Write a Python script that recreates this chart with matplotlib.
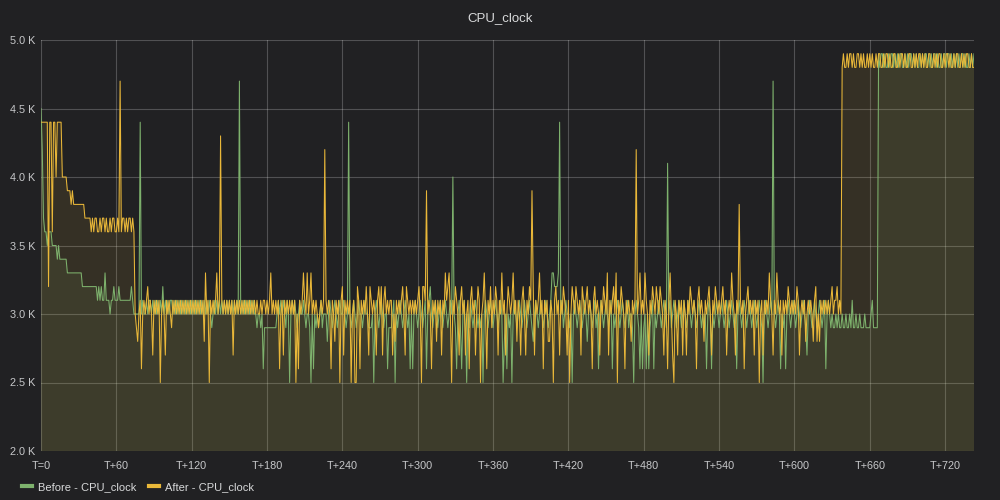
import numpy as np
import matplotlib
matplotlib.use("Agg")
import matplotlib.pyplot as plt
from matplotlib.ticker import FuncFormatter, MultipleLocator

title = "CPU_clock"
series_names = ["Before - CPU_clock", "After - CPU_clock"]
x_ticks = list(range(0, 721, 60))
x_labels = ["T=0"] + ["T+%d" % s for s in x_ticks[1:]]

# one sample per second, clock in units of 100 MHz (30 -> 3.0 K)
before = [
    45, 42, 37, 36, 36, 35, 36, 36, 36, 35, 35, 35, 35, 34, 35, 34, 34, 34, 34, 34,
    34, 33, 33, 33, 33, 33, 33, 33, 33, 33, 33, 33, 33, 32, 32, 32, 32, 32, 32, 32,
    32, 32, 32, 32, 32, 31, 32, 31, 32, 31, 31, 33, 31, 31, 31, 30, 31, 31, 32, 31,
    # T+60
    31, 31, 32, 31, 31, 31, 31, 31, 31, 31, 31, 31, 32, 31, 30, 30, 30, 30, 30, 44,
    30, 31, 30, 30, 31, 30, 31, 31, 30, 31, 30, 31, 30, 31, 30, 31, 30, 32, 30, 31,
    30, 31, 30, 31, 31, 30, 31, 30, 31, 30, 31, 30, 31, 30, 31, 30, 31, 30, 31, 30,
    # T+120
    31, 30, 31, 30, 31, 30, 31, 30, 31, 30, 31, 30, 31, 30, 31, 30, 29, 30, 31, 30,
    31, 30, 31, 30, 31, 30, 31, 30, 31, 30, 31, 30, 31, 30, 31, 30, 31, 30, 47, 31,
    30, 31, 30, 31, 30, 31, 30, 31, 30, 31, 30, 30, 29, 30, 30, 29, 30, 26, 29, 29,
    # T+180
    29, 29, 29, 29, 29, 29, 29, 29, 30, 31, 30, 31, 30, 31, 30, 29, 31, 30, 25, 30,
    31, 30, 31, 30, 29, 30, 31, 30, 30, 31, 30, 29, 30, 30, 29, 25, 30, 26, 30, 29,
    30, 29, 30, 31, 29, 30, 30, 30, 28, 30, 31, 30, 29, 30, 31, 30, 29, 30, 31, 30,
    # T+240
    30, 31, 30, 29, 30, 44, 30, 29, 30, 31, 30, 29, 30, 31, 30, 30, 29, 30, 31, 30,
    30, 29, 29, 29, 30, 25, 30, 31, 30, 29, 30, 31, 30, 29, 30, 30, 26, 29, 29, 29,
    30, 31, 25, 30, 29, 30, 31, 30, 29, 30, 31, 30, 29, 30, 26, 30, 26, 30, 31, 30,
    # T+300
    29, 30, 31, 30, 29, 30, 31, 26, 30, 31, 32, 30, 29, 30, 31, 30, 29, 30, 31, 30,
    29, 30, 31, 30, 29, 30, 31, 30, 40, 30, 29, 26, 30, 31, 29, 26, 30, 31, 29, 25,
    30, 29, 31, 30, 29, 30, 31, 30, 29, 30, 29, 30, 25, 30, 31, 30, 29, 30, 31, 30,
    # T+360
    29, 30, 31, 30, 29, 30, 31, 30, 25, 28, 30, 26, 30, 29, 30, 25, 30, 31, 30, 29,
    30, 31, 30, 29, 30, 31, 30, 29, 30, 31, 30, 29, 28, 30, 31, 30, 29, 30, 31, 30,
    29, 30, 31, 30, 29, 30, 31, 33, 33, 32, 32, 32, 33, 44, 30, 31, 29, 30, 31, 30,
    # T+420
    30, 29, 30, 25, 30, 31, 30, 29, 30, 31, 30, 29, 30, 31, 30, 28, 30, 31, 30, 29,
    30, 31, 29, 30, 26, 30, 31, 30, 29, 30, 31, 30, 29, 30, 31, 26, 30, 29, 30, 31,
    30, 29, 30, 31, 30, 29, 30, 31, 29, 30, 30, 29, 25, 30, 31, 30, 29, 26, 30, 26,
    # T+480
    29, 30, 26, 30, 26, 29, 30, 31, 26, 30, 29, 30, 31, 30, 29, 30, 31, 30, 29, 41,
    30, 31, 29, 30, 31, 30, 29, 30, 31, 30, 29, 30, 31, 30, 29, 30, 31, 30, 29, 30,
    31, 30, 29, 30, 31, 30, 29, 30, 29, 30, 26, 30, 31, 30, 26, 30, 29, 30, 31, 30,
    # T+540
    29, 30, 31, 30, 29, 30, 31, 30, 29, 30, 31, 30, 29, 30, 26, 30, 31, 30, 29, 30,
    31, 30, 29, 30, 31, 30, 29, 30, 31, 30, 29, 30, 31, 30, 29, 25, 30, 31, 30, 29,
    30, 31, 30, 47, 30, 29, 30, 31, 30, 26, 30, 29, 30, 26, 30, 31, 30, 29, 30, 31,
    # T+600
    30, 29, 30, 31, 30, 29, 30, 31, 30, 29, 27, 30, 31, 30, 29, 30, 31, 30, 29, 30,
    31, 30, 29, 30, 31, 26, 30, 31, 30, 29, 30, 29, 29, 30, 29, 30, 29, 29, 30, 29,
    29, 30, 29, 29, 30, 29, 31, 29, 29, 30, 29, 29, 30, 29, 29, 29, 30, 29, 29, 29,
    # T+660
    29, 30, 31, 29, 29, 29, 29, 49, 48, 49, 49, 48, 49, 48, 48, 49, 48, 49, 49, 48,
    49, 48, 49, 48, 49, 49, 48, 48, 49, 48, 49, 48, 49, 49, 48, 49, 48, 49, 48, 48,
    49, 48, 49, 48, 49, 49, 48, 49, 48, 49, 48, 49, 49, 48, 49, 48, 48, 49, 48, 49,
    # T+720
    49, 48, 49, 49, 48, 49, 48, 49, 48, 49, 48, 49, 48, 49, 49, 48, 49, 48, 48, 49,
    48, 49, 48, 49,
]

after = [
    44, 44, 44, 44, 44, 44, 32, 44, 44, 36, 44, 44, 40, 44, 44, 44, 44, 40, 40, 40,
    40, 39, 39, 39, 38, 39, 38, 38, 38, 38, 38, 38, 38, 38, 38, 37, 37, 37, 37, 37,
    36, 37, 36, 37, 37, 36, 36, 37, 36, 37, 37, 36, 37, 36, 36, 37, 36, 37, 37, 36,
    # T+60
    36, 37, 36, 47, 36, 37, 37, 36, 37, 36, 37, 37, 36, 37, 36, 30, 29, 28, 30, 31,
    26, 30, 31, 30, 31, 32, 30, 31, 30, 27, 31, 30, 31, 30, 31, 25, 30, 31, 30, 27,
    31, 30, 31, 30, 29, 31, 30, 31, 30, 31, 30, 31, 30, 31, 30, 31, 30, 31, 30, 31,
    # T+120
    30, 31, 30, 31, 30, 31, 30, 31, 30, 31, 28, 33, 30, 31, 25, 31, 30, 31, 30, 31,
    33, 30, 31, 43, 31, 30, 31, 30, 31, 30, 31, 30, 31, 27, 31, 30, 31, 30, 31, 30,
    31, 30, 31, 30, 31, 30, 31, 30, 31, 30, 31, 30, 31, 30, 30, 31, 30, 31, 31, 30,
    # T+180
    31, 30, 31, 33, 30, 31, 30, 31, 30, 31, 26, 30, 31, 27, 31, 30, 31, 30, 31, 30,
    31, 30, 31, 25, 30, 26, 31, 30, 31, 33, 31, 30, 33, 30, 31, 33, 30, 31, 30, 31,
    30, 29, 30, 31, 30, 31, 42, 31, 30, 31, 30, 26, 31, 30, 28, 31, 30, 31, 25, 31,
    # T+240
    32, 27, 31, 30, 31, 30, 31, 25, 30, 31, 25, 25, 32, 31, 26, 31, 30, 31, 30, 32,
    30, 27, 32, 31, 30, 31, 30, 27, 31, 32, 30, 32, 27, 31, 32, 30, 31, 30, 31, 31,
    27, 30, 28, 31, 30, 31, 30, 31, 32, 30, 27, 32, 31, 30, 31, 30, 31, 30, 31, 30,
    # T+300
    31, 32, 30, 25, 32, 32, 31, 39, 30, 31, 30, 26, 31, 30, 31, 28, 31, 30, 31, 27,
    31, 30, 33, 31, 32, 33, 30, 25, 31, 30, 32, 31, 30, 27, 31, 32, 30, 31, 27, 30,
    31, 26, 31, 32, 30, 31, 27, 30, 32, 31, 25, 30, 31, 33, 30, 26, 31, 30, 32, 29,
    # T+360
    31, 30, 32, 31, 27, 31, 30, 33, 30, 31, 27, 30, 32, 31, 30, 31, 33, 30, 31, 28,
    31, 30, 27, 31, 32, 30, 27, 31, 30, 32, 31, 39, 32, 27, 31, 30, 31, 33, 30, 31,
    26, 31, 30, 31, 28, 28, 31, 30, 25, 31, 32, 30, 31, 27, 31, 30, 32, 31, 30, 27,
    # T+420
    31, 25, 30, 32, 31, 30, 32, 31, 30, 31, 27, 32, 31, 30, 31, 32, 30, 31, 30, 26,
    31, 32, 30, 31, 30, 27, 31, 30, 32, 31, 30, 33, 27, 31, 30, 31, 32, 30, 33, 25,
    31, 30, 32, 31, 30, 26, 31, 30, 31, 30, 28, 31, 30, 31, 42, 30, 31, 33, 30, 31,
    # T+480
    30, 33, 31, 30, 27, 31, 30, 32, 31, 30, 32, 31, 30, 32, 31, 30, 27, 31, 30, 26,
    31, 33, 30, 27, 25, 31, 30, 27, 31, 30, 31, 27, 31, 30, 27, 31, 30, 32, 31, 30,
    31, 30, 26, 31, 32, 30, 31, 30, 28, 31, 30, 31, 32, 30, 27, 31, 30, 32, 31, 30,
    # T+540
    31, 30, 31, 32, 30, 31, 27, 30, 31, 30, 33, 31, 30, 27, 31, 30, 38, 31, 30, 31,
    26, 30, 31, 32, 30, 31, 30, 31, 27, 31, 30, 31, 25, 30, 31, 27, 31, 30, 31, 30,
    33, 31, 30, 27, 31, 30, 33, 31, 30, 31, 27, 31, 30, 31, 30, 32, 31, 30, 31, 30,
    # T+600
    31, 30, 32, 31, 27, 30, 31, 30, 31, 28, 30, 31, 30, 31, 30, 28, 31, 32, 28, 30,
    28, 31, 30, 31, 30, 31, 30, 31, 30, 31, 32, 30, 31, 31, 32, 30, 31, 30, 48, 49,
    48, 48, 49, 48, 49, 49, 48, 49, 48, 48, 49, 49, 48, 49, 48, 49, 48, 48, 49, 48,
    # T+660
    49, 48, 49, 48, 48, 49, 48, 49, 49, 48, 48, 49, 48, 49, 49, 48, 49, 48, 48, 49,
    49, 48, 48, 49, 48, 49, 49, 48, 49, 48, 48, 49, 49, 48, 48, 49, 48, 49, 48, 49,
    49, 48, 49, 48, 49, 48, 48, 49, 49, 48, 48, 49, 48, 49, 48, 49, 49, 48, 48, 49,
    # T+720
    48, 49, 49, 48, 49, 48, 48, 49, 48, 49, 49, 48, 48, 49, 48, 49, 48, 49, 49, 48,
    48, 49, 48, 48,
]

bg = "#212123"
colors = ["#7eb26d", "#eab839"]
text_col = "#c7c8ca"

plt.rcParams["font.family"] = ["Liberation Sans", "DejaVu Sans"]

fig = plt.figure(figsize=(10, 5), dpi=100, facecolor=bg)
ax = fig.add_axes([0.041, 0.098, 0.933, 0.822])
ax.set_facecolor(bg)

for vals, col, name in zip([before, after], colors, series_names):
    y = np.array(vals) * 100.0
    t = np.arange(len(y))
    ax.fill_between(t, y, 0, color=col, alpha=0.1, linewidth=0)
    ax.plot(t, y, color=col, lw=0.75, label=name)

ax.set_xlim(0, 743)
ax.set_ylim(2000, 5000)
ax.set_xticks(x_ticks)
ax.set_xticklabels(x_labels)
ax.yaxis.set_major_locator(MultipleLocator(500))
ax.yaxis.set_major_formatter(FuncFormatter(lambda v, p: "%.1f K" % (v / 1000.0)))
ax.grid(True, color="#ffffff", alpha=0.22, lw=0.8)
ax.set_axisbelow(True)
ax.tick_params(axis="both", length=0, colors=text_col, labelsize=7.8)
ax.tick_params(axis="x", pad=7)
ax.tick_params(axis="y", pad=4)
for s in ax.spines.values():
    s.set_visible(False)

fig.text(0.5, 0.964, title, ha="center", va="center", color="#d8d9da", fontsize=9.5)

leg = fig.legend(loc="center left", bbox_to_anchor=(0.022, 0.026), ncol=2,
                 frameon=False, fontsize=8, handlelength=0.9, handletextpad=0.55,
                 columnspacing=1.1, borderpad=0, borderaxespad=0)
for line in leg.get_lines():
    line.set_linewidth(3)
for txt in leg.get_texts():
    txt.set_color("#d8d9da")

fig.savefig("out.png", dpi=100, facecolor=bg)
